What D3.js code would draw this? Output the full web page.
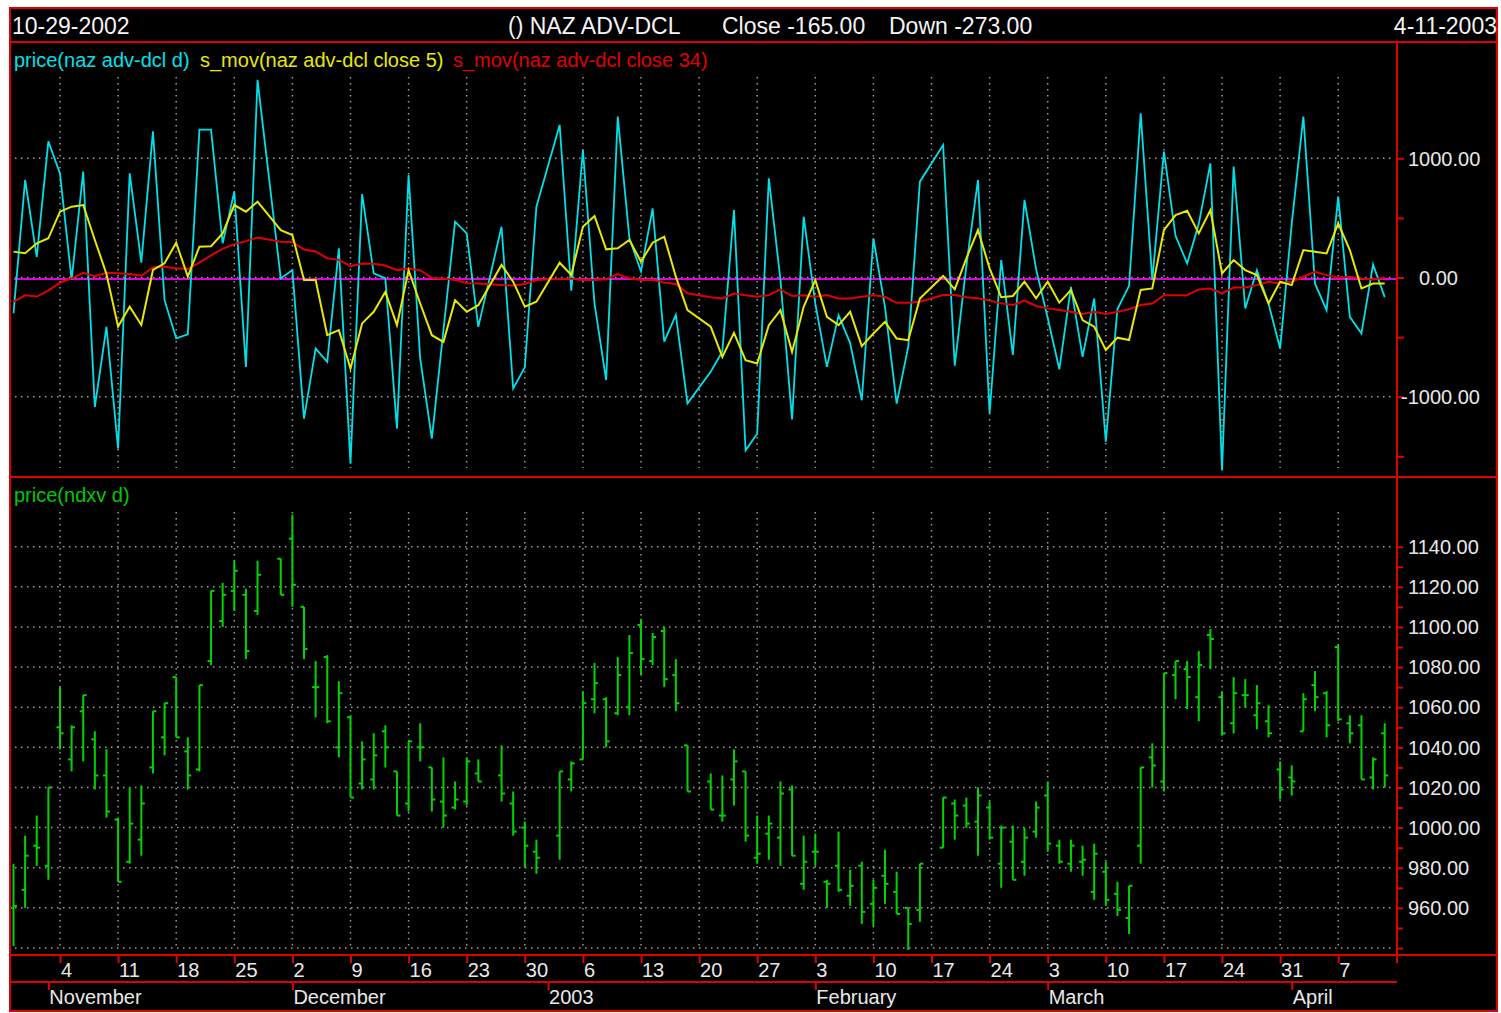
<!DOCTYPE html>
<html>
<head>
<meta charset="utf-8">
<script src="https://d3js.org/d3.v7.min.js"></script>
<style>
  html, body { margin: 0; padding: 0; background: #fff; }
  svg { display: block; }
  text { font-family: "Liberation Sans", Arial, sans-serif; }
</style>
</head>
<body>
<svg id="chart"></svg>
<script>
// calendar: every weekday gets a slot, market holidays stay empty
const startDay = '2002-10-29';
const endDay = '2003-04-11';
const holidays = ['2002-11-28', '2002-12-25', '2003-01-01', '2003-01-20', '2003-02-17'];

// naz adv-dcl, one value per trading day
const advDcl = [
  -300, 818, 172, 1142, 872, -20, 888, -1085, -414, -1435, 874, 125, 1226, -190, -510, -476, 1240, 1240, 286, 720, -750, 1658,
  -8, 62, -1184, -596, -708, 244, -1562, 700, 34, -8, -1268, 860, -680, -1352, -442, 468, 370, -414,
  426, -930, -755, 594,
  1280, -110, 1070, -220, -860, 1350, 330, 50, 580, -538, -314, -1056,
  -790, -620, 566, -1450, -1310, 832, -20, -1190, 510, -220, -750, -316, -550, -1030, 328, -250, -1058, -580, 804,
  1111, -740, 100, 818, -1140, 147, -650, 650, 70, -340, -770, -78, -665, -176, -1378, -265, -70, 1378, -22, 1056,
  350, 118, 450, 958, -1618, 930, -260, 62, -218, -596, 450, 1350, -50, -274, 678, -330, -470, 108, -165
];
const advDclMa5 = [
  217, 203, 287, 329, 552, 594, 608, 315, 30, -412, -245, -398, 63, 119, 292, 7, 259, 262, 370, 608, 552, 636,
  398, 356, -22, -22, -484, -442, -764, -385, -288, -120, -400, 62, -218, -484, -540, -190, -288, -232,
  105, -35, -245, -203,
  124, 21, 426, 516, 236, 245, 315, 133, 292, 343, 7, -273,
  -412, -666, -464, -694, -722, -400, -274, -624, -246, -22, -330, -400, -288, -576, -470, -372, -512, -526, -176,
  13, -99, 161, 398, 77, -166, -155, -35, -175, -35, -211, -105, -357, -412, -608, -505, -524, -105, -92, 398,
  524, 560, 370, 566, 34, 146, 62, 20, -218, -36, -64, 230, 216, 202, 454, 230, -92, -50, -50
];
const advDclMa34 = [
  -203, -150, -160, -110, -43, -7, 40, 10, 40, 35, 30, 15, 85, 90, 78, 72, 124, 185, 240, 280, 305, 335,
  300, 298, 235, 218, 162, 148, 95, 118, 115, 100, 62, 76, 62, -5, -8, -20, -48, -50,
  -63, -68, -55, -21,
  -10, -10, -21, -21, -15, 29, -7, -21, -21, -43, -55, -133,
  -166, -176, -134, -148, -162, -148, -100, -156, -148, -162, -148, -176, -176, -162, -148, -162, -212, -212, -204,
  -147, -147, -166, -175, -194, -217, -231, -194, -239, -259, -273, -287, -306, -287, -306, -287, -267, -231, -218, -148,
  -148, -148, -100, -92, -134, -84, -84, -64, -36, -50, -36, 6, 48, 20, 0, 6, -8, -16, 0
];

// ndxv daily bars
const ndxOpen = [
  960, 969, 991, 981, 1050, 1034, 1058, 1044, 1026, 1004, 983, 994, 1030, 1045, 1075, 1038, 1029, 1083, 1103, 1118, 1116, 1108,
  1134, 1144, 1110, 1070, 1085, 1040, 1055, 1022, 1024, 1048, 1028, 1012, 1040, 1030, 1013, 1010, 1013, 1027,
  1026, 1012, 1000, 988,
  996, 1024, 1034, 1064, 1064, 1057, 1060, 1101, 1083, 1098, 1076, 1041,
  1023, 1006, 1024, 1028, 985, 997, 995, 1019, 972, 988, 973, 981, 966, 981, 962, 976, 968, 960, 959,
  990, 1012, 1011, 1003, 1010, 982, 993, 983, 998, 1016, 991, 982, 983, 968, 978, 967, 955, 991, 1035, 1023,
  1076, 1079, 1065, 1096, 1065, 1052, 1066, 1056, 1053, 1029, 1025, 1048, 1071, 1067, 1090, 1052, 1051, 1025, 1047
];
const ndxHigh = [
  982, 996, 1006, 1020, 1070, 1051, 1066, 1048, 1039, 1005, 1020, 1021, 1058, 1062, 1075, 1045, 1071, 1118, 1122, 1133, 1119, 1133,
  1134, 1156, 1110, 1083, 1086, 1073, 1056, 1043, 1047, 1051, 1028, 1043, 1052, 1030, 1035, 1023, 1035, 1034,
  1041, 1018, 1003, 994,
  1028, 1033, 1068, 1082, 1065, 1085, 1096, 1104, 1097, 1100, 1084, 1041,
  1027, 1026, 1039, 1028, 1006, 1006, 1023, 1021, 996, 997, 974, 998, 979, 983, 974, 989, 978, 960, 982,
  1015, 1014, 1015, 1020, 1013, 1001, 1001, 1000, 1013, 1023, 994, 994, 991, 992, 983, 973, 971, 1030, 1042, 1077,
  1083, 1083, 1088, 1099, 1068, 1075, 1074, 1071, 1061, 1033, 1031, 1067, 1078, 1068, 1091, 1056, 1056, 1035, 1052
];
const ndxLow = [
  941, 960, 981, 974, 1039, 1028, 1033, 1019, 1005, 973, 982, 986, 1027, 1036, 1045, 1019, 1028, 1081, 1100, 1108, 1084, 1106,
  1116, 1110, 1084, 1055, 1052, 1035, 1015, 1019, 1019, 1030, 1006, 1008, 1033, 1008, 1000, 1009, 1011, 1023,
  1013, 996, 980, 977,
  984, 1018, 1034, 1057, 1040, 1056, 1056, 1076, 1081, 1070, 1058, 1018,
  1009, 1003, 1011, 993, 982, 984, 981, 986, 969, 981, 960, 968, 961, 952, 951, 962, 957, 939, 953,
  990, 994, 1000, 986, 994, 970, 974, 976, 995, 988, 982, 978, 976, 964, 961, 956, 947, 982, 1020, 1018,
  1064, 1059, 1053, 1079, 1046, 1047, 1060, 1049, 1045, 1014, 1016, 1048, 1058, 1045, 1053, 1042, 1024, 1019, 1020
];
const ndxClose = [
  961, 986, 990, 1020, 1047, 1050, 1066, 1026, 1008, 973, 1002, 1012, 1058, 1062, 1045, 1026, 1071, 1118, 1116, 1128, 1088, 1126,
  1116, 1121, 1089, 1070, 1053, 1067, 1015, 1034, 1036, 1040, 1006, 1043, 1040, 1014, 1006, 1014, 1033, 1023,
  1017, 998, 991, 985,
  1028, 1032, 1062, 1072, 1043, 1076, 1087, 1084, 1095, 1074, 1062, 1018,
  1009, 1006, 1033, 996, 987, 1002, 1017, 986, 983, 988, 972, 969, 971, 958, 970, 972, 957, 952, 982,
  1015, 1006, 1002, 1016, 995, 1000, 974, 995, 1010, 992, 983, 991, 984, 987, 964, 959, 971, 1030, 1031, 1077,
  1083, 1075, 1081, 1094, 1047, 1067, 1066, 1062, 1047, 1019, 1023, 1064, 1065, 1051, 1054, 1047, 1024, 1034, 1026
];

// price-axis ticks and labels
const advTicks = [-1500, -1000, -500, 0, 500, 1000];
const advLabels = [-1000, 0, 1000];
const ndxTicks = d3.range(940, 1141, 10);
const ndxLabels = [960, 980, 1000, 1020, 1040, 1060, 1080, 1100, 1120, 1140];

// layout
const width = 1501;
const height = 1013;
const frame = { left: 10, top: 8, right: 1497, bottom: 1011 };
const headerY = 42, splitY = 477, axisY = 955, monthY = 982, scaleX = 1397;

const red = '#e00000';
const gridColor = '#9a9a9a';

const svg = d3.select('#chart')
  .attr('width', width)
  .attr('height', height);

// slots and trading days
const parseDay = d3.utcParse('%Y-%m-%d');
const fmtDay = d3.utcFormat('%Y-%m-%d');
const slots = d3.utcDay.range(parseDay(startDay), d3.utcDay.offset(parseDay(endDay), 1))
  .filter(d => d.getUTCDay() > 0 && d.getUTCDay() < 6);
const tradingDays = slots.map(fmtDay).filter(s => !holidays.includes(s));

const adv = tradingDays.map((day, i) => ({ day, price: advDcl[i], ma5: advDclMa5[i], ma34: advDclMa34[i] }));
const ndx = tradingDays.map((day, i) => ({ day, o: ndxOpen[i], h: ndxHigh[i], l: ndxLow[i], c: ndxClose[i] }));

// scales
const x = d3.scalePoint().domain(slots.map(fmtDay)).range([13.5, 1384.7]);
const yAdv = d3.scaleLinear().domain([-1000, 1000]).range([396.7, 158.3]);
const yNdx = d3.scaleLinear().domain([940, 1140]).range([948, 546.7]);

const mondays = slots.filter(d => d.getUTCDay() === 1);
const monthStarts = slots.filter((d, i) => i > 0 && d.getUTCMonth() !== slots[i - 1].getUTCMonth());

// background
svg.append('rect')
  .attr('x', frame.left).attr('y', frame.top)
  .attr('width', frame.right - frame.left).attr('height', frame.bottom - frame.top)
  .attr('fill', '#000');

// dotted grid
const grid = svg.append('g')
  .attr('stroke', gridColor)
  .attr('stroke-width', 1.5)
  .attr('stroke-dasharray', '1.5,4.5');

[[77, 468], [512, 948]].forEach(([y0, y1]) => {
  grid.selectAll(null)
    .data(mondays)
    .enter()
    .append('line')
    .attr('x1', d => x(fmtDay(d))).attr('x2', d => x(fmtDay(d)))
    .attr('y1', y0).attr('y2', y1);
});

grid.selectAll(null)
  .data(advLabels)
  .enter()
  .append('line')
  .attr('x1', 15).attr('x2', 1395)
  .attr('y1', d => yAdv(d)).attr('y2', d => yAdv(d));

grid.selectAll(null)
  .data(d3.range(940, 1141, 20))
  .enter()
  .append('line')
  .attr('x1', 15).attr('x2', 1395)
  .attr('y1', d => yNdx(d)).attr('y2', d => yNdx(d));

// zero level
svg.append('line')
  .attr('x1', 14).attr('x2', 1396)
  .attr('y1', yAdv(0) + 1.5).attr('y2', yAdv(0) + 1.5)
  .attr('stroke', '#e000e0')
  .attr('stroke-width', 2);

// adv-dcl lines
const lineOf = key => d3.line()
  .x(d => x(d.day))
  .y(d => yAdv(d[key]));

svg.append('path')
  .datum(adv)
  .attr('fill', 'none')
  .attr('stroke', '#00e0e8')
  .attr('stroke-width', 1.8)
  .attr('d', lineOf('price'));

svg.append('path')
  .datum(adv)
  .attr('fill', 'none')
  .attr('stroke', red)
  .attr('stroke-width', 2)
  .attr('d', lineOf('ma34'));

svg.append('path')
  .datum(adv)
  .attr('fill', 'none')
  .attr('stroke', '#e8e800')
  .attr('stroke-width', 2)
  .attr('d', lineOf('ma5'));

// ndxv bars
const bars = svg.append('g')
  .attr('stroke', '#00d400')
  .attr('stroke-width', 2);

const bar = bars.selectAll('g')
  .data(ndx)
  .enter()
  .append('g')
  .attr('transform', d => `translate(${x(d.day)},0)`);

bar.append('line')
  .attr('x1', 0).attr('x2', 0)
  .attr('y1', d => yNdx(d.h)).attr('y2', d => yNdx(d.l));

bar.append('line')
  .attr('x1', -3.5).attr('x2', 0)
  .attr('y1', d => yNdx(d.o)).attr('y2', d => yNdx(d.o));

bar.append('line')
  .attr('x1', 0).attr('x2', 3.5)
  .attr('y1', d => yNdx(d.c)).attr('y2', d => yNdx(d.c));

// frame lines
const frameLines = [
  [frame.left, headerY, frame.right, headerY],
  [frame.left, splitY, frame.right, splitY],
  [frame.left, axisY, frame.right, axisY],
  [frame.left, monthY, scaleX, monthY],
  [scaleX, headerY, scaleX, axisY + 8]
];
svg.append('g')
  .attr('stroke', red)
  .attr('stroke-width', 2)
  .selectAll('line')
  .data(frameLines)
  .enter()
  .append('line')
  .attr('x1', d => d[0]).attr('y1', d => d[1])
  .attr('x2', d => d[2]).attr('y2', d => d[3]);

svg.append('rect')
  .attr('x', frame.left).attr('y', frame.top)
  .attr('width', frame.right - frame.left).attr('height', frame.bottom - frame.top)
  .attr('fill', 'none')
  .attr('stroke', red)
  .attr('stroke-width', 2);

// right price axes
const styleAxis = g => {
  g.select('.domain').remove();
  g.selectAll('.tick line').attr('stroke', red).attr('stroke-width', 2);
};

svg.append('g')
  .attr('transform', `translate(${scaleX},0)`)
  .call(d3.axisRight(yAdv).tickValues(advTicks).tickSize(7).tickFormat(''))
  .call(styleAxis);

svg.append('g')
  .attr('transform', `translate(${scaleX},0)`)
  .call(d3.axisRight(yNdx).tickValues(ndxTicks).tickSize(6).tickFormat(''))
  .call(styleAxis);

const labelColor = '#e8e8e8';

svg.append('g')
  .selectAll('text')
  .data(advLabels)
  .enter()
  .append('text')
  .attr('x', d => d === 0 ? 1419 : d < 0 ? 1401 : 1408)
  .attr('y', d => yAdv(d))
  .attr('dy', '0.36em')
  .attr('fill', labelColor)
  .attr('font-size', 20)
  .text(d => d3.format('.2f')(d).replace('−', '-'));

svg.append('g')
  .selectAll('text')
  .data(ndxLabels)
  .enter()
  .append('text')
  .attr('x', 1408)
  .attr('y', d => yNdx(d))
  .attr('dy', '0.36em')
  .attr('fill', labelColor)
  .attr('font-size', 20)
  .text(d => d3.format('.2f')(d));

// time axis: weeks and months
svg.append('g')
  .attr('transform', `translate(0,${axisY})`)
  .call(d3.axisBottom(x).tickValues(mondays.map(fmtDay)).tickSize(8).tickFormat(''))
  .call(styleAxis);

svg.append('g')
  .attr('transform', `translate(0,${monthY})`)
  .call(d3.axisBottom(x).tickValues(monthStarts.map(fmtDay)).tickSize(8).tickFormat(''))
  .call(styleAxis);

svg.append('g')
  .selectAll('text')
  .data(mondays)
  .enter()
  .append('text')
  .attr('x', d => x(fmtDay(d)) + 1)
  .attr('y', 977)
  .attr('fill', labelColor)
  .attr('font-size', 20)
  .text(d => d.getUTCDate());

svg.append('g')
  .selectAll('text')
  .data(monthStarts)
  .enter()
  .append('text')
  .attr('x', d => x(fmtDay(d)) + 1)
  .attr('y', 1004)
  .attr('fill', labelColor)
  .attr('font-size', 20)
  .text(d => d.getUTCMonth() === 0 ? d3.utcFormat('%Y')(d) : d3.utcFormat('%B')(d));

// header
const headerDate = d => `${d.getUTCMonth() + 1}-${d.getUTCDate()}-${d.getUTCFullYear()}`;
const lastClose = advDcl[advDcl.length - 1];
const change = lastClose - advDcl[advDcl.length - 2];
const headerItems = [
  { text: headerDate(parseDay(startDay)), x: 12, anchor: 'start' },
  { text: '() NAZ ADV-DCL', x: 508, anchor: 'start' },
  { text: `Close ${lastClose.toFixed(2)}`, x: 722, anchor: 'start' },
  { text: `${change < 0 ? 'Down' : 'Up'} ${change.toFixed(2)}`, x: 889, anchor: 'start' },
  { text: headerDate(parseDay(endDay)), x: 1497, anchor: 'end' }
];
svg.append('g')
  .selectAll('text')
  .data(headerItems)
  .enter()
  .append('text')
  .attr('x', d => d.x)
  .attr('y', 34)
  .attr('text-anchor', d => d.anchor)
  .attr('fill', '#f4f4f4')
  .attr('font-size', 23)
  .text(d => d.text);

// legends
const legendItems = [
  { text: 'price(naz adv-dcl d)', x: 14, y: 67, color: '#00e0e8' },
  { text: 's_mov(naz adv-dcl close 5)', x: 200, y: 67, color: '#e8e800' },
  { text: 's_mov(naz adv-dcl close 34)', x: 453, y: 67, color: red },
  { text: 'price(ndxv d)', x: 14, y: 502, color: '#00c800' }
];
svg.append('g')
  .selectAll('text')
  .data(legendItems)
  .enter()
  .append('text')
  .attr('x', d => d.x)
  .attr('y', d => d.y)
  .attr('fill', d => d.color)
  .attr('font-size', 20)
  .text(d => d.text);
</script>
</body>
</html>
